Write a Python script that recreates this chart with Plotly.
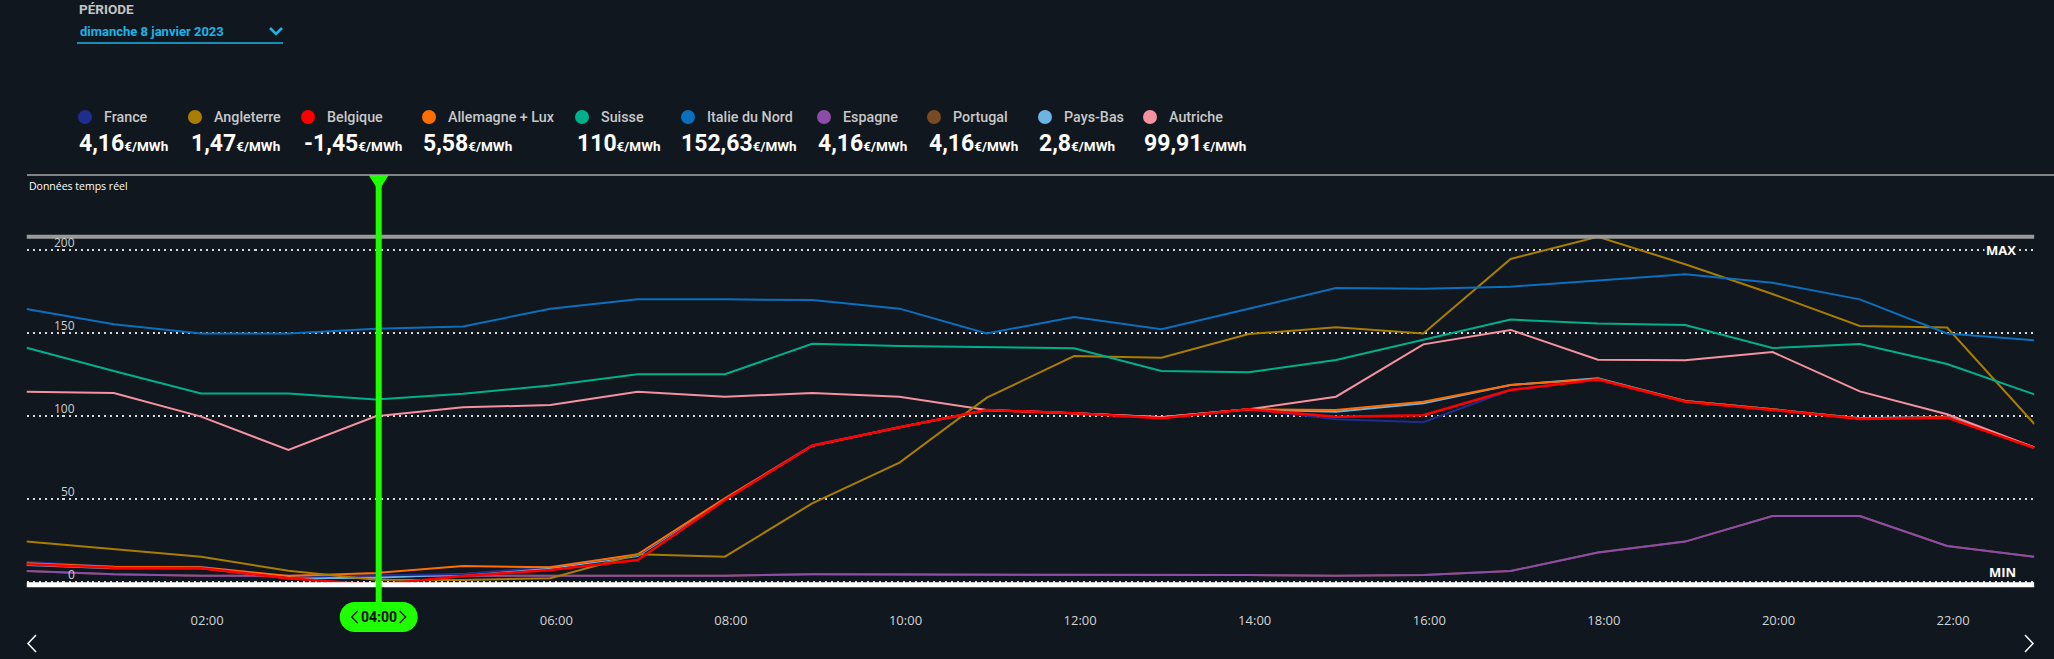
import plotly.graph_objects as go

# ---------------- data ----------------
hours = list(range(24))
tick_hours = [2, 4, 6, 8, 10, 12, 14, 16, 18, 20, 22]
tick_labels = ["02:00", "04:00", "06:00", "08:00", "10:00", "12:00",
               "14:00", "16:00", "18:00", "20:00", "22:00"]
grid_values = [0, 50, 100, 150, 200]
selected_hour = 4
selected_label = "04:00"

france = [12.4, 9.4, 9.4, 3.4, 4.16, 5.0, 9.4, 16.4, 50.5, 82.6, 93.3, 103.7,
          101.7, 99.3, 104.1, 98.1, 96.3, 115.7, 122.4, 109.1, 104.1, 98.7, 99.3, 81.2]
angleterre = [24.5, 20.1, 15.4, 7.0, 1.47, 1.4, 2.4, 16.9, 15.4, 47.5, 72.0, 111.1,
              136.2, 135.2, 149.4, 153.5, 149.8, 194.6, 208.0, 191.4, 173.5, 154.3, 153.3, 95.3]
belgique = [10.8, 8.8, 8.4, 2.4, -1.45, 3.8, 7.4, 13.4, 49.5, 82.2, 93.3, 103.7,
            101.7, 98.7, 104.1, 99.7, 100.5, 115.7, 122.0, 108.7, 103.7, 98.3, 99.1, 80.8]
allemagne = [11.4, 9.4, 9.0, 3.8, 5.58, 9.8, 9.0, 16.9, 50.5, 82.2, 93.3, 103.7,
             101.7, 99.3, 104.1, 103.7, 108.7, 118.8, 122.4, 109.1, 104.1, 98.7, 99.3, 81.2]
suisse = [141.2, 127.2, 113.7, 113.7, 110.0, 113.5, 118.4, 125.2, 125.2, 143.6, 142.2, 141.6,
          140.8, 127.2, 126.4, 133.8, 145.8, 158.1, 155.7, 154.9, 141.0, 143.4, 131.4, 113.1]
italie = [164.5, 155.3, 149.8, 149.8, 152.63, 153.9, 164.7, 170.3, 170.3, 169.9, 164.7, 149.8,
          159.7, 152.3, 164.6, 177.1, 176.7, 177.9, 181.7, 185.4, 180.3, 170.3, 149.8, 145.6]
espagne = [6.8, 4.8, 4.0, 4.0, 4.16, 3.8, 3.8, 3.8, 4.0, 4.8, 4.8, 4.8,
           4.8, 4.8, 4.4, 4.0, 4.4, 6.8, 17.9, 24.5, 39.9, 39.9, 21.9, 15.4]
portugal = [6.8, 4.8, 4.0, 4.0, 4.16, 3.8, 3.8, 3.8, 4.0, 4.8, 4.8, 4.8,
            4.8, 4.8, 4.4, 4.0, 4.4, 6.8, 17.9, 24.5, 39.9, 39.9, 21.9, 15.4]
pays_bas = [10.4, 8.4, 8.4, 2.4, 2.8, 4.8, 8.4, 15.8, 50.0, 82.2, 93.3, 103.7,
            101.7, 99.3, 104.1, 102.7, 107.7, 118.8, 122.8, 109.1, 104.1, 98.7, 99.7, 81.2]
autriche = [114.7, 113.9, 99.7, 79.6, 99.91, 105.3, 106.7, 114.7, 111.7, 113.9, 111.7, 103.7,
            101.7, 99.3, 104.1, 111.7, 143.2, 151.9, 134.0, 133.6, 138.6, 114.9, 101.1, 81.2]

series_names = ["France", "Angleterre", "Belgique", "Allemagne + Lux", "Suisse",
                "Italie du Nord", "Espagne", "Portugal", "Pays-Bas", "Autriche"]
series_values = [france, angleterre, belgique, allemagne, suisse,
                 italie, espagne, portugal, pays_bas, autriche]

# ---------------- style ----------------
BG = "#10171e"
W, H = 2054, 659
colors = {
    "France": "#1f2d8c", "Angleterre": "#a97d00", "Belgique": "#ff0000",
    "Allemagne + Lux": "#ff6e00", "Suisse": "#00b08c", "Italie du Nord": "#0a70bd",
    "Espagne": "#8c4ca8", "Portugal": "#7a4a22", "Pays-Bas": "#6cb4e4",
    "Autriche": "#f4939f",
}
# legend block positions (pixels): dot centre x, value left x
legend_dot_x = [85, 195, 308, 429, 582, 688, 824, 934, 1045, 1150]
legend_val_x = [78, 190, 303, 422, 576, 680, 817, 928, 1038, 1143]
draw_order = ["Portugal", "Espagne", "Pays-Bas", "France", "Allemagne + Lux",
              "Autriche", "Angleterre", "Suisse", "Italie du Nord", "Belgique"]

def px(x):
    return x / W

def py(y):
    return 1 - y / H

# plot area in pixels
PLOT_L, PLOT_R = 26.5, 2034.4
PLOT_T, PLOT_B = 175, 600
ZERO_PY, PPU = 582.3, 1.6615
y_lo = (ZERO_PY - PLOT_B) / PPU
y_hi = (ZERO_PY - PLOT_T) / PPU
CURSOR_SHIFT = 3  # cursor drawn a few pixels right of the hour

fig = go.Figure()
data_by_name = dict(zip(series_names, series_values))
for name in draw_order:
    fig.add_trace(go.Scatter(
        x=hours, y=data_by_name[name], mode="lines", name=name,
        line=dict(color=colors[name], width=2.5 if name == "Belgique" else 2),
        hoverinfo="skip", showlegend=False,
    ))

all_vals = [v for s in series_values for v in s]
vmax, vmin = max(all_vals), min(all_vals)

shapes = []
annotations = []

# top separator line
shapes.append(dict(type="line", xref="paper", yref="paper", x0=px(27), x1=1,
                   y0=py(175), y1=py(175), line=dict(color="#a8a8a8", width=1.5)))
# max / min lines
shapes.append(dict(type="line", xref="x", yref="y", x0=0, x1=23, y0=vmax, y1=vmax,
                   line=dict(color="#9a9a9a", width=4)))
shapes.append(dict(type="line", xref="x", yref="y", x0=0, x1=23, y0=vmin, y1=vmin,
                   line=dict(color="#ffffff", width=5)))

# cursor
GREEN = "#1eff00"
cs = CURSOR_SHIFT
shapes.append(dict(type="line", xref="x", yref="paper", xsizemode="pixel", xanchor=selected_hour,
                   x0=cs, x1=cs, y0=py(176), y1=py(610), line=dict(color=GREEN, width=6)))
shapes.append(dict(type="path", xref="x", yref="paper", xsizemode="pixel", xanchor=selected_hour,
                   path=f"M{cs - 10},{py(175)} L{cs + 10},{py(175)} L{cs},{py(191)} Z",
                   fillcolor=GREEN, line=dict(width=0)))
# pill (pixel-sized, symmetric)
def pill_path(c):
    return (f"M{c-24},-15 L{c+24},-15 C{c+32.3},-15 {c+39},-8.3 {c+39},0 "
            f"C{c+39},8.3 {c+32.3},15 {c+24},15 L{c-24},15 C{c-32.3},15 {c-39},8.3 {c-39},0 "
            f"C{c-39},-8.3 {c-32.3},-15 {c-24},-15 Z")
shapes.append(dict(type="path", xref="x", yref="paper", xsizemode="pixel", ysizemode="pixel",
                   xanchor=selected_hour, yanchor=py(617), path=pill_path(cs),
                   fillcolor=GREEN, line=dict(width=0)))
for sgn in (-1, 1):
    shapes.append(dict(type="path", xref="x", yref="paper", xsizemode="pixel", ysizemode="pixel",
                       xanchor=selected_hour, yanchor=py(617),
                       path=f"M{cs + sgn*21},-6 L{cs + sgn*27},0 L{cs + sgn*21},6",
                       line=dict(color="#0b0b0b", width=1.3)))
annotations.append(dict(x=selected_hour, xref="x", y=py(617), yref="paper", xshift=cs,
                        text=f"<b>{selected_label}</b>", showarrow=False,
                        font=dict(family="Roboto", size=14, color="#0b0b0b"),
                        xanchor="center", yanchor="middle"))

# y grid labels
for v in grid_values:
    annotations.append(dict(x=px(77), xref="paper", y=v, yref="y", text=str(v),
                            showarrow=False, xanchor="right", yanchor="bottom", yshift=-3,
                            font=dict(family="Open Sans", size=12, color="#cfcfcf")))
annotations.append(dict(x=px(2018), xref="paper", y=max(grid_values), yref="y", text="<b>MAX</b>",
                        showarrow=False, xanchor="right", yanchor="middle", bgcolor=BG,
                        borderpad=1, font=dict(family="Open Sans", size=13, color="#ffffff")))
annotations.append(dict(x=px(2018), xref="paper", y=vmin, yref="y", text="<b>MIN</b>",
                        showarrow=False, xanchor="right", yanchor="bottom", yshift=2,
                        font=dict(family="Open Sans", size=13, color="#ffffff")))

annotations.append(dict(x=px(27), xref="paper", y=py(186), yref="paper",
                        text="Données temps réel", showarrow=False,
                        xanchor="left", yanchor="middle",
                        font=dict(family="Open Sans", size=10.5, color="#ffffff")))

# header: période selector
annotations.append(dict(x=px(77), xref="paper", y=py(9), yref="paper", text="<b>PÉRIODE</b>",
                        showarrow=False, xanchor="left", yanchor="middle",
                        font=dict(family="Roboto", size=13.5, color="#c4c4c4")))
annotations.append(dict(x=px(78), xref="paper", y=py(32), yref="paper",
                        text="<b>dimanche 8 janvier 2023</b>", showarrow=False,
                        xanchor="left", yanchor="middle",
                        font=dict(family="Roboto", size=13, color="#1cb4e6")))
shapes.append(dict(type="path", xref="paper", yref="paper",
                   path=f"M{px(270)},{py(28)} L{px(276)},{py(34)} L{px(282)},{py(28)}",
                   line=dict(color="#1cb4e6", width=2.5)))
shapes.append(dict(type="line", xref="paper", yref="paper", x0=px(77), x1=px(283),
                   y0=py(43), y1=py(43), line=dict(color="#1cb4e6", width=1.5)))

# legend row
def fmt(v):
    s = f"{v:.2f}".rstrip("0").rstrip(".")
    return s.replace(".", ",")

for name, vals, dxp, vx in zip(series_names, series_values, legend_dot_x, legend_val_x):
    shapes.append(dict(type="circle", xref="paper", yref="paper",
                       x0=px(dxp - 7), x1=px(dxp + 7), y0=py(124), y1=py(110),
                       fillcolor=colors[name], line=dict(width=0)))
    annotations.append(dict(x=px(dxp + 17), xref="paper", y=py(117), yref="paper", text=name,
                            showarrow=False, xanchor="left", yanchor="middle",
                            font=dict(family="Roboto", size=14.3, color="#c8c8c8", weight=500)))
    annotations.append(dict(x=px(vx - 1), xref="paper", y=py(143), yref="paper",
                            text=f"<b>{fmt(vals[selected_hour])}</b>"
                                 f"<span style='font-size:13.5px'><b>€/MWh</b></span>",
                            showarrow=False, xanchor="left", yanchor="middle",
                            font=dict(family="Roboto", size=23, color="#ffffff")))

# bottom navigation chevrons
shapes.append(dict(type="path", xref="paper", yref="paper",
                   path=f"M{px(36)},{py(635)} L{px(28)},{py(643.5)} L{px(36)},{py(652)}",
                   line=dict(color="#ffffff", width=1.5)))
shapes.append(dict(type="path", xref="paper", yref="paper",
                   path=f"M{px(2025)},{py(635)} L{px(2033)},{py(643.5)} L{px(2025)},{py(652)}",
                   line=dict(color="#ffffff", width=1.5)))

# the selected hour's tick is replaced by the cursor pill
axis_ticks = [h for h in tick_hours if h != selected_hour]
axis_text = [t for h, t in zip(tick_hours, tick_labels) if h != selected_hour]

fig.update_layout(
    width=W, height=H, autosize=False,
    margin=dict(l=0, r=0, t=0, b=0, pad=0),
    paper_bgcolor=BG, plot_bgcolor=BG,
    showlegend=False,
    shapes=shapes, annotations=annotations,
    xaxis=dict(domain=[px(PLOT_L), px(PLOT_R)], range=[0, 23],
               tickvals=axis_ticks, ticktext=axis_text,
               showgrid=False, zeroline=False, showline=False,
               ticks="outside", ticklen=8, tickcolor="rgba(0,0,0,0)",
               ticklabelshift=6,
               tickfont=dict(family="Open Sans", size=13, color="#d4d4d4")),
    yaxis=dict(domain=[py(PLOT_B), py(PLOT_T)], range=[y_lo, y_hi],
               tickvals=grid_values, showticklabels=False,
               showgrid=True, gridcolor="#d8d8d8", gridwidth=1.5, griddash="2px,4px",
               zeroline=False, showline=False),
)

fig.write_html("out.html", config={"displayModeBar": False},
               post_script="document.body.style.margin='0';document.body.style.overflow='hidden';")
